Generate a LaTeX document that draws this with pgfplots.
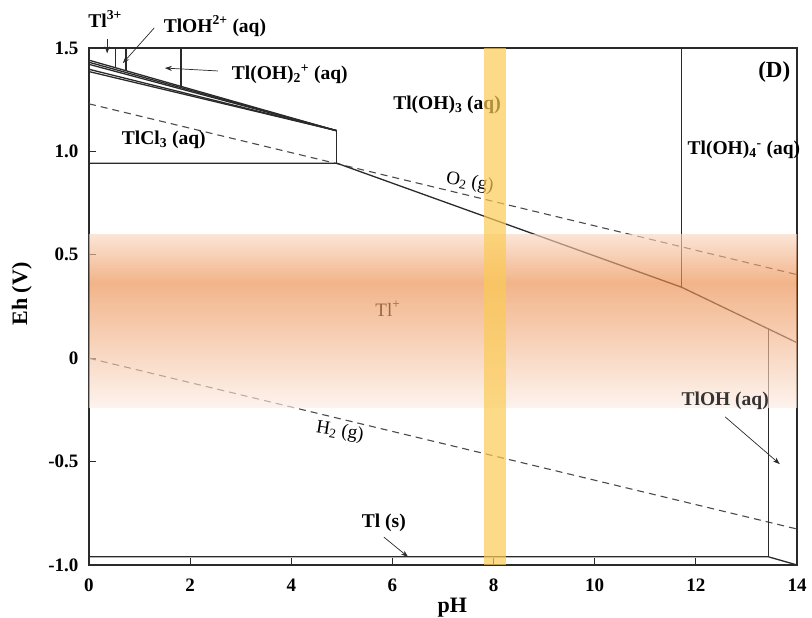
\documentclass[border=0pt]{standalone}
\usepackage{fontspec}
\setmainfont{Liberation Serif}
\usepackage{pgfplots}
\pgfplotsset{compat=1.18}
\usetikzlibrary{arrows.meta}

\definecolor{lineclr}{HTML}{2A2A2A}
\definecolor{dashclr}{HTML}{4A4A4A}
\definecolor{bandedge}{HTML}{F9D7C3}
\definecolor{bandpeak}{HTML}{EB8C4B}
\definecolor{bandlow}{HTML}{FCEDE4}
\definecolor{phband}{HTML}{FBCB55}

% Eh band: pale at both edges, strongest near Eh = 0.37 V
\pgfdeclareverticalshading{ehband}{100bp}{%
  color(0bp)=(bandlow); color(25bp)=(bandlow);
  color(61.1bp)=(bandpeak);
  color(75bp)=(bandedge); color(100bp)=(bandedge)}

\newcommand{\lbl}{\fontsize{19.5bp}{21bp}\selectfont\bfseries}
\newcommand{\lblr}{\fontsize{19bp}{21bp}\selectfont}

\tikzset{
  diag/.style={lineclr, line width=1.3bp},
  wet/.style={dashclr, line width=1.1bp, dash pattern=on 7bp off 5bp},
  pointer/.style={lineclr, line width=0.7bp, -{Stealth[length=7bp,width=5bp]}},
}

\begin{document}
\begin{tikzpicture}
\begin{axis}[
  width=708bp, height=517bp, scale only axis,
  at={(0,0)}, anchor=south west,
  xmin=0, xmax=14, ymin=-1, ymax=1.5,
  xtick={0,2,4,6,8,10,12,14},
  xticklabels={0,2,4,6,8,10,12,14},
  ytick={-1,-0.5,0,0.5,1,1.5},
  yticklabels={-1.0,-0.5,0,0.5,1.0,1.5},
  tick align=inside, xtick pos=bottom, ytick pos=left,
  major tick length=7bp,
  tick style={lineclr, line width=0.9bp},
  axis line style={lineclr, line width=1.3bp},
  /pgf/number format/assume math mode=true,
  ticklabel style={font=\fontsize{19bp}{19bp}\selectfont\bfseries},
  xticklabel style={yshift=-10bp},
  yticklabel style={xshift=-7bp},
  clip=false,
  xlabel={pH}, ylabel={Eh (V)},
  every axis y label/.style={at={(axis description cs:-0.095,0.524)}, rotate=90, anchor=center,
    font=\fontsize{22bp}{22bp}\selectfont\bfseries},
  every axis x label/.style={at={(axis description cs:0.513,-0.083)}, anchor=center,
    font=\fontsize{22bp}{22bp}\selectfont\bfseries},
]

% water stability limits
\addplot[wet, no markers] coordinates {(0,1.23) (14,0.404)};
\addplot[wet, no markers] coordinates {(0,0.0) (14,-0.826)};

% Tl(s) boundary
\addplot[diag, no markers] coordinates {(0,-0.96) (13.43,-0.96) (14,-1.0)};
\addplot[diag, no markers] coordinates {(13.43,-0.96) (13.43,0.145)};

% TlCl3 / Tl(OH)3 / Tl(OH)4- against Tl+
\addplot[diag, no markers] coordinates {(0,0.943) (4.9,0.943) (11.72,0.343) (14,0.075)};
\addplot[diag, no markers] coordinates {(4.9,0.943) (4.9,1.10)};
\addplot[diag, no markers] coordinates {(11.72,0.343) (11.72,1.5)};

% closely spaced Tl(III) boundaries at low pH
\addplot[diag, no markers] coordinates {(0,1.441) (4.9,1.10)};
\addplot[diag, no markers] coordinates {(0,1.431) (4.9,1.10)};
\addplot[diag, no markers] coordinates {(0,1.421) (4.9,1.10)};
\addplot[diag, no markers] coordinates {(0,1.397) (4.9,1.10)};
\addplot[diag, no markers] coordinates {(0,1.386) (4.9,1.10)};

% Tl3+ / TlOH2+ / Tl(OH)2+ / Tl(OH)3 verticals
\addplot[diag, no markers] coordinates {(0.52,1.5) (0.52,1.405)};
\addplot[diag, no markers] coordinates {(0.73,1.5) (0.73,1.391)};
\addplot[diag, no markers] coordinates {(1.82,1.5) (1.82,1.315)};

% field labels
\node[font=\lbl] at (axis cs:0.32,1.640) {Tl\textsuperscript{3+}};
\node[font=\lbl] at (axis cs:2.49,1.606) {TlOH\textsuperscript{2+} (aq)};
\node[font=\lbl] at (axis cs:3.97,1.374) {Tl(OH)\textsubscript{2}\textsuperscript{+} (aq)};
\node[font=\lbl] at (axis cs:1.48,1.055) {TlCl\textsubscript{3} (aq)};
\node[font=\lbl] at (axis cs:7.08,1.224) {Tl(OH)\textsubscript{3} (aq)};
\node[font=\lbl] at (axis cs:12.95,1.007) {Tl(OH)\textsubscript{4}\textsuperscript{-} (aq)};
\node[font=\fontsize{23bp}{24bp}\selectfont\bfseries] at (axis cs:13.55,1.384) {(D)};
\node[font=\lblr, rotate=-9] at (axis cs:7.53,0.847) {O\textsubscript{2} (g)};
\node[font=\lblr, rotate=-9] at (axis cs:4.96,-0.357) {H\textsubscript{2} (g)};
\node[font=\lblr, text=black] at (axis cs:5.91,0.238) {Tl\textsuperscript{+}};
\node[font=\lbl] at (axis cs:5.83,-0.797) {Tl (s)};

% pointers
\draw[pointer] (axis cs:0.36,1.544) -- (axis cs:0.36,1.474);
\draw[pointer] (axis cs:1.29,1.597) -- (axis cs:0.67,1.427);
\draw[pointer] (axis cs:2.55,1.389) -- (axis cs:1.50,1.403);
\draw[pointer] (axis cs:12.58,-0.284) -- (axis cs:13.66,-0.512);
\draw[pointer] (axis cs:5.83,-0.865) -- (axis cs:6.31,-0.961);

% Eh band of the samples
\addplot[draw=none, shading=ehband, fill opacity=0.65]
  coordinates {(0,-0.240) (14,-0.240) (14,0.600) (0,0.600)};

% pH band of the samples
\addplot[draw=none, fill=phband, fill opacity=0.7]
  coordinates {(7.82,-1) (8.24,-1) (8.24,1.5) (7.82,1.5)};

\node[font=\lbl, text=black!80] at (axis cs:12.58,-0.205) {TlOH (aq)};

\end{axis}
\pgfresetboundingbox
\path[use as bounding box] (-89bp,-53bp) rectangle (723bp,565bp);
\end{tikzpicture}
\end{document}
